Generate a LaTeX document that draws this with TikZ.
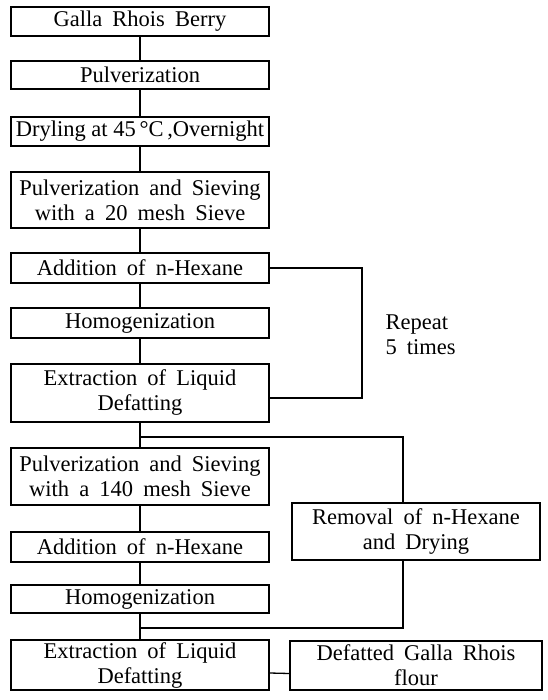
\documentclass[tikz,border=0pt]{standalone}
\usepackage{fontspec}
\setmainfont{Liberation Serif}
\newcommand\diagfont{\fontsize{22.5}{25}\selectfont\spaceskip=0.45em plus 0.1em\relax}
\newcommand\tightfont{\fontsize{22.5}{25}\selectfont\spaceskip=0.25em\relax}
\begin{document}
\begin{tikzpicture}[x=1pt,y=-1pt,
  every node/.style={font=\diagfont},
  box/.style={draw,line width=1.4pt,rectangle,align=center,inner sep=0pt,minimum width=258pt},
  conn/.style={line width=1.3pt}]
\useasboundingbox (0,0) rectangle (547,700);
\node[box,minimum height=29pt] (b1) at (140,21.5) {Galla Rhois Berry};
\node[box,minimum height=28pt] (b2) at (140,75) {Pulverization};
\node[box,minimum height=29pt,font=\tightfont] (b3) at (140,131.5) {Dryling at 45\,°C\,,Overnight};
\node[box,minimum height=56pt] (b4) at (140,200) {Pulverization and Sieving\\with a 20 mesh Sieve};
\node[box,minimum height=30pt] (b5) at (140,268) {Addition of n-Hexane};
\node[box,minimum height=30pt] (b6) at (140,323) {Homogenization};
\node[box,minimum height=58pt] (b7) at (140,393) {Extraction of Liquid\\Defatting};
\node[box,minimum height=57pt] (b8) at (140,476.5) {Pulverization and Sieving\\with a 140 mesh Sieve};
\node[box,minimum height=30pt] (b9) at (140,547) {Addition of n-Hexane};
\node[box,minimum height=28pt] (b10) at (140,599) {Homogenization};
\node[box,minimum height=50pt] (b11) at (140,665) {Extraction of Liquid\\Defatting};
\node[box,minimum width=248pt,minimum height=57pt] (rem) at (416,531.5) {Removal of n-Hexane\\and Drying};
\node[box,minimum width=252pt,minimum height=49pt] (def) at (416,665.5) {Defatted Galla Rhois\\flour};
\node[anchor=west,align=left] (rep) at (382,335) {Repeat\\5 times};

\draw[conn] (b1.south) -- (b2.north);
\draw[conn] (b2.south) -- (b3.north);
\draw[conn] (b3.south) -- (b4.north);
\draw[conn] (b4.south) -- (b5.north);
\draw[conn] (b5.south) -- (b6.north);
\draw[conn] (b6.south) -- (b7.north);
\draw[conn] (b7.south) -- (b8.north);
\draw[conn] (b8.south) -- (b9.north);
\draw[conn] (b9.south) -- (b10.north);
\draw[conn] (b10.south) -- (b11.north);
\coordinate (lp) at (362,268);
\draw[conn] (b5.east) -- (lp) |- ([yshift=-5pt]b7.east);
\coordinate (br) at (140,437);
\draw[conn] (br) -| ([xshift=-13pt]rem.north);
\coordinate (jn) at (140,628);
\draw[conn] ([xshift=-13pt]rem.south) |- (jn);
\draw[conn] ([yshift=-8pt]b11.east) -- ([yshift=-8pt]def.west);
\end{tikzpicture}
\end{document}
